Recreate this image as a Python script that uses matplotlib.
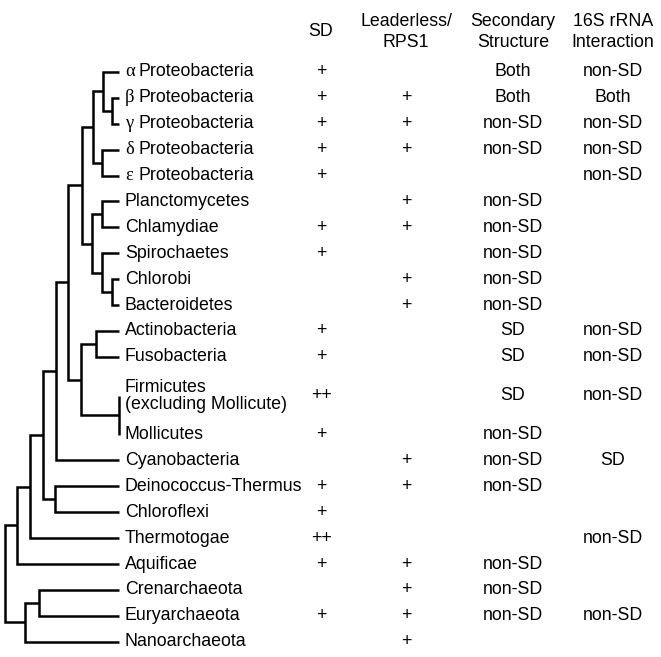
import matplotlib
matplotlib.use("Agg")
import matplotlib.pyplot as plt

# ===== Data =====
taxa = ["αProteobacteria", "β Proteobacteria", "γ Proteobacteria",
        "δ Proteobacteria", "ε Proteobacteria",
        "Planctomycetes", "Chlamydiae", "Spirochaetes", "Chlorobi", "Bacteroidetes",
        "Actinobacteria", "Fusobacteria", "Firmicutes\n(excluding Mollicute)", "Mollicutes",
        "Cyanobacteria", "Deinococcus-Thermus", "Chloroflexi", "Thermotogae", "Aquificae",
        "Crenarchaeota", "Euryarchaeota", "Nanoarchaeota"]
# rows taken by each label (Firmicutes label has two lines)
row_span = [1] * 12 + [2] + [1] * 9

columns = ["SD", "Leaderless/\nRPS1", "Secondary\nStructure", "16S rRNA\nInteraction"]
sd = ["+", "+", "+", "+", "+", "", "+", "+", "", "", "+", "+", "++", "+",
      "", "+", "+", "++", "+", "", "+", ""]
leaderless = ["", "+", "+", "+", "", "+", "+", "", "+", "+", "", "", "", "",
              "+", "+", "", "", "+", "+", "+", "+"]
secondary = ["Both", "Both", "non-SD", "non-SD", "", "non-SD", "non-SD", "non-SD",
             "non-SD", "non-SD", "SD", "SD", "SD", "non-SD", "non-SD", "non-SD",
             "", "", "non-SD", "non-SD", "non-SD", ""]
rrna16s = ["non-SD", "Both", "non-SD", "non-SD", "non-SD", "", "", "", "", "",
           "non-SD", "non-SD", "non-SD", "", "SD", "", "", "non-SD", "", "",
           "non-SD", ""]

# Tree: (node, depth, children) -- ints are leaf indices into taxa
tree_nodes = [
    ("bg", 112, [1, 2]),
    ("abg", 103, [0, "bg"]),
    ("de", 102, [3, 4]),
    ("proteo", 93, ["abg", "de"]),
    ("pc", 102, [5, 6]),
    ("cb", 112, [8, 9]),
    ("scb", 102, [7, "cb"]),
    ("pvc_fcb", 92, ["pc", "scb"]),
    ("n_a", 82, ["proteo", "pvc_fcb"]),
    ("af", 96, [10, 11]),
    ("firm", 119, [12, 13]),
    ("gp", 81, ["af", "firm"]),
    ("n_b", 68, ["n_a", "gp"]),
    ("n_c", 56, ["n_b", 14]),
    ("dc", 55, [15, 16]),
    ("n_d", 43, ["n_c", "dc"]),
    ("n_e", 30, ["n_d", 17]),
    ("n_f", 17, ["n_e", 18]),
    ("ce", 39, [19, 20]),
    ("arch", 25, ["ce", 21]),
    ("root", 5, ["n_f", "arch"]),
]
leaf_depth = 119

# ===== Layout =====
fig = plt.figure(figsize=(6.61, 6.57), dpi=100)
ax = fig.add_axes([0, 0, 1, 1])
ax.set_xlim(0, 661)
ax.set_ylim(22.59, -2.78)
ax.axis("off")

FONT = "Liberation Sans"
FS = 12.8

# row centres of leaves
leaf_y = []
r = 0
for s in row_span:
    leaf_y.append(r + (s - 1) / 2)
    r += s

# ===== Tree =====
pos = {i: (leaf_depth, y) for i, y in enumerate(leaf_y)}
for name, depth, kids in tree_nodes:
    (x1, y1), (x2, y2) = pos[kids[0]], pos[kids[1]]
    ax.plot([x1, depth, depth, x2], [y1, y1, y2, y2], color="black", lw=1.8,
            solid_joinstyle="miter", solid_capstyle="butt")
    pos[name] = (depth, (y1 + y2) / 2)

# ===== Leaf labels =====
greek = "αβγδε"
for lab, y in zip(taxa, leaf_y):
    if lab[0] in greek:
        ax.text(125, y, lab[0], fontsize=FS + 0.5, family="Liberation Serif",
                va="center", ha="left")
        ax.text(139, y, lab[1:].strip(), fontsize=FS, family=FONT, va="center", ha="left")
    else:
        ax.text(125, y, lab, fontsize=FS, family=FONT, va="center", ha="left",
                linespacing=1.0)

# ===== Table columns =====
col_x = [321, 406, 513, 613]
for cx, head, vals in zip(col_x, columns, [sd, leaderless, secondary, rrna16s]):
    ax.text(cx, -1.55, head, fontsize=FS, family=FONT, ha="center", va="center",
            linespacing=1.3)
    for v, y in zip(vals, leaf_y):
        if v:
            ax.text(cx, y, v, fontsize=FS, family=FONT, ha="center", va="center")

fig.savefig("out.png", dpi=100)
